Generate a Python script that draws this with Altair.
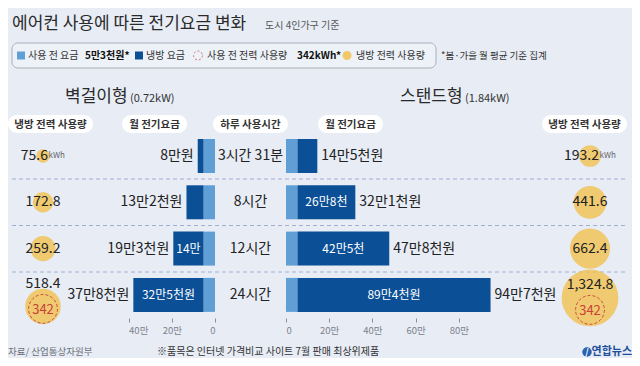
import altair as alt
import pandas as pd

# ---------------- data ----------------
rows = ["1", "2", "3", "4"]
hours = ["3시간 31분", "8시간", "12시간", "24시간"]
base_fee = 5.3  # 사용 전 요금 (만원)
wall_total = [8.0, 13.2, 19.3, 37.8]
stand_total = [14.5, 32.1, 47.8, 94.7]
wall_total_labels = ["8만원", "13만2천원", "19만3천원", "37만8천원"]
stand_total_labels = ["14만5천원", "32만1천원", "47만8천원", "94만7천원"]
wall_cool_labels = ["", "", "14만", "32만5천원"]
stand_cool_labels = ["", "26만8천", "42만5천", "89만4천원"]
wall_kwh = [75.6, 172.8, 259.2, 518.4]
stand_kwh = [193.2, 441.6, 662.4, 1324.8]
wall_kwh_labels = ["75.6", "172.8", "259.2", "518.4"]
stand_kwh_labels = ["193.2", "441.6", "662.4", "1,324.8"]
base_kwh = 342
wall_ticks = [0, 20, 40]
stand_ticks = [0, 20, 40, 60, 80]

df = pd.DataFrame({
    "row": rows,
    "hours": hours,
    "zero": [0.0] * 4,
    "base": [base_fee] * 4,
    "wall_total": wall_total,
    "stand_total": stand_total,
    "wall_total_label": wall_total_labels,
    "stand_total_label": stand_total_labels,
    "wall_cool_label": wall_cool_labels,
    "stand_cool_label": stand_cool_labels,
    "wall_kwh": wall_kwh,
    "stand_kwh": stand_kwh,
    "wall_kwh_label": wall_kwh_labels,
    "stand_kwh_label": stand_kwh_labels,
    "base_kwh": [base_kwh] * 4,
})

# ---------------- styles ----------------
FONT = "Noto Sans CJK KR"
NUM = "Liberation Sans Narrow, Noto Sans CJK KR"
BG = "#e7ecf5"
LIGHT = "#5f9fd6"
DARK = "#0b4f96"
YEL = "#f2c254"
RED = "#c8403a"
TXT = "#222222"
NSZ = 14

Y = alt.Y("row:O", scale=alt.Scale(domain=rows, range=[131, 303.9],
                                    paddingInner=0.266, paddingOuter=0), axis=None)
SIZE = alt.Scale(type="linear", domain=[0, 1000], range=[0, 2433])

LSCALE = alt.Scale(domain=[0, 40], range=[207, 120.6], nice=False, zero=True)
RSCALE = alt.Scale(domain=[0, 100], range=[278, 494], nice=False, zero=True)


def axis(vals):
    return alt.Axis(values=vals, domain=False, grid=False, tickColor="#8a8f99",
                    tickSize=4, labelColor="#7d828c", labelFontSize=9.5, labelFont=FONT,
                    labelPadding=3, title=None, orient="bottom",
                    labelExpr="datum.value == 0 ? '0' : datum.value + '만'")


LAX = axis(wall_ticks)
RAX = axis(stand_ticks)


def label(text, x, y, size=11, color=TXT, weight="normal", align="left",
          font=FONT, baseline="middle"):
    return alt.Chart(pd.DataFrame({"t": [text]})).mark_text(
        align=align, baseline=baseline, fontSize=size, color=color,
        fontWeight=weight, font=font
    ).encode(x=alt.value(x), y=alt.value(y), text="t:N")


def box(x1, x2, y1, y2, fill="white", stroke=None, radius=9):
    kw = dict(cornerRadius=radius, fill=fill)
    if stroke:
        kw.update(stroke=stroke, strokeWidth=1)
    return alt.Chart(pd.DataFrame({"t": [0]})).mark_rect(**kw).encode(
        x=alt.value(x1), x2=alt.value(x2), y=alt.value(y1), y2=alt.value(y2))


def pill(x1, x2, text):
    return [box(x1, x2, 107, 125),
            label(text, (x1 + x2) / 2, 116.5, size=10.5, weight="bold",
                  align="center", color="#333")]


layers = []

# ---------- header ----------
layers.append(label("에어컨 사용에 따른 전기요금 변화", 4, 16, size=17, color="#2a2a2a"))
layers.append(label("도시 4인가구 기준", 257, 18, size=10, color="#555"))

# legend box
layers.append(box(4, 428, 35, 60, fill="#edf1f8", stroke="#a9afba", radius=6))
sq = alt.Chart(pd.DataFrame({"t": [0]}))
layers.append(sq.mark_square(color=LIGHT, opacity=1).encode(
    x=alt.value(13), y=alt.value(47.5), size=alt.value(64)))
layers.append(label("사용 전 요금", 20, 47.5, size=10, color="#333"))
layers.append(label("5만3천원*", 77, 47.5, size=10, weight="bold", color="#111"))
layers.append(sq.mark_square(color=DARK, opacity=1).encode(
    x=alt.value(131), y=alt.value(47.5), size=alt.value(64)))
layers.append(label("냉방 요금", 138, 47.5, size=10, color="#333"))
layers.append(sq.mark_point(shape="circle", filled=False, color=RED, strokeDash=[2, 2],
                            strokeWidth=1).encode(
    x=alt.value(190), y=alt.value(47.5), size=alt.value(80)))
layers.append(label("사용 전 전력 사용량", 199, 47.5, size=10, color="#333"))
layers.append(label("342kWh*", 289, 47.5, size=10, weight="bold", color="#111"))
layers.append(sq.mark_circle(color=YEL, opacity=0.9).encode(
    x=alt.value(339), y=alt.value(47.5), size=alt.value(80)))
layers.append(label("냉방 전력 사용량", 348, 47.5, size=10, color="#333"))
layers.append(label("*봄·가을 월 평균 기준 집계", 433, 47.5, size=9.5, color="#333"))

# section titles
layers.append(label("벽걸이형", 57, 94, size=17, baseline="alphabetic", color="#2a2a2a"))
layers.append(label("(0.72kW)", 122, 94, size=11, baseline="alphabetic", color="#333"))
layers.append(label("스탠드형", 392, 94, size=17, baseline="alphabetic", color="#2a2a2a"))
layers.append(label("(1.84kW)", 457, 94, size=11, baseline="alphabetic", color="#333"))

# column pills
layers += pill(0, 85, "냉방 전력 사용량")
layers += pill(114, 179, "월 전기요금")
layers += pill(205, 280, "하루 사용시간")
layers += pill(310, 375, "월 전기요금")
layers += pill(534, 619, "냉방 전력 사용량")

# dashed separators
for yy in [171, 217.5, 264]:
    layers.append(alt.Chart(pd.DataFrame({"t": [0]})).mark_rule(
        color="#9fb0d3", strokeDash=[4, 3], strokeWidth=1).encode(
        x=alt.value(4), x2=alt.value(617), y=alt.value(yy)))

base = alt.Chart(df)

# ---------- left (벽걸이형) bars ----------
left = alt.layer(
    base.mark_bar(color=LIGHT).encode(
        x=alt.X("zero:Q", scale=LSCALE, axis=LAX, title=None), x2="base:Q", y=Y),
    base.mark_bar(color=DARK).encode(
        x=alt.X("base:Q", scale=LSCALE, axis=LAX, title=None), x2="wall_total:Q", y=Y),
    base.mark_text(align="right", dx=-4, baseline="middle", fontSize=NSZ, font=NUM,
                   color=TXT).encode(
        x=alt.X("wall_total:Q", scale=LSCALE, axis=LAX, title=None), y=Y,
        text="wall_total_label:N"),
    base.transform_filter("datum.wall_cool_label != ''").transform_calculate(
        mid="(datum.base + datum.wall_total) / 2").mark_text(
        align="center", baseline="middle", fontSize=12, font=NUM, color="white").encode(
        x=alt.X("mid:Q", scale=LSCALE, axis=LAX, title=None), y=Y,
        text="wall_cool_label:N"),
)

# ---------- right (스탠드형) bars ----------
right = alt.layer(
    base.mark_bar(color=LIGHT).encode(
        x=alt.X("zero:Q", scale=RSCALE, axis=RAX, title=None), x2="base:Q", y=Y),
    base.mark_bar(color=DARK).encode(
        x=alt.X("base:Q", scale=RSCALE, axis=RAX, title=None), x2="stand_total:Q", y=Y),
    base.mark_text(align="left", dx=4, baseline="middle", fontSize=NSZ, font=NUM,
                   color=TXT).encode(
        x=alt.X("stand_total:Q", scale=RSCALE, axis=RAX, title=None), y=Y,
        text="stand_total_label:N"),
    base.transform_filter("datum.stand_cool_label != ''").transform_calculate(
        mid="(datum.base + datum.stand_total) / 2").mark_text(
        align="center", baseline="middle", fontSize=12, font=NUM, color="white").encode(
        x=alt.X("mid:Q", scale=RSCALE, axis=RAX, title=None), y=Y,
        text="stand_cool_label:N"),
)

layers.append(left)
layers.append(right)

# hours in the middle
layers.append(base.mark_text(align="center", baseline="middle", fontSize=NSZ, font=NUM,
                             color=TXT).encode(x=alt.value(242.5), y=Y, text="hours:N"))

# ---------- circles ----------
not4 = "datum.row != '4'"
is4 = "datum.row == '4'"
layers.append(base.transform_filter(not4).mark_circle(color=YEL, opacity=0.82).encode(
    x=alt.value(35), y=Y, size=alt.Size("wall_kwh:Q", scale=SIZE, legend=None)))
layers.append(base.transform_filter(is4).mark_circle(color=YEL, opacity=0.82, yOffset=11.5).encode(
    x=alt.value(35), y=Y, size=alt.Size("wall_kwh:Q", scale=SIZE, legend=None)))
layers.append(base.transform_filter(not4).mark_circle(color=YEL, opacity=0.82).encode(
    x=alt.value(582), y=Y, size=alt.Size("stand_kwh:Q", scale=SIZE, legend=None)))
layers.append(base.transform_filter(is4).mark_circle(color=YEL, opacity=0.82, yOffset=3).encode(
    x=alt.value(582), y=Y, size=alt.Size("stand_kwh:Q", scale=SIZE, legend=None)))

# dashed 342 circles
for cx, off in [(35, 14), (582, 15)]:
    layers.append(base.transform_filter(is4).mark_point(
        shape="circle", filled=False, color=RED, strokeDash=[3, 2], strokeWidth=1,
        opacity=0.9, yOffset=off).encode(
        x=alt.value(cx), y=Y, size=alt.Size("base_kwh:Q", scale=SIZE, legend=None)))
    layers.append(base.transform_filter(is4).mark_text(
        align="center", baseline="middle", fontSize=13, font=NUM, color=RED,
        dy=off + 1).encode(x=alt.value(cx), y=Y, text="base_kwh:Q"))

# circle value labels
mid_rows = "datum.row == '2' || datum.row == '3'"
is1 = "datum.row == '1'"
layers.append(base.transform_filter(mid_rows).mark_text(
    align="center", baseline="middle", fontSize=NSZ, font=NUM, color=TXT).encode(
    x=alt.value(35), y=Y, text="wall_kwh_label:N"))
layers.append(base.transform_filter(mid_rows).mark_text(
    align="center", baseline="middle", fontSize=NSZ, font=NUM, color=TXT).encode(
    x=alt.value(582), y=Y, text="stand_kwh_label:N"))
layers.append(base.transform_filter(is1).mark_text(
    align="right", baseline="middle", fontSize=NSZ, font=NUM, color=TXT).encode(
    x=alt.value(40), y=Y, text="wall_kwh_label:N"))
layers.append(base.transform_filter(is1).mark_text(
    align="right", baseline="middle", fontSize=NSZ, font=NUM, color=TXT).encode(
    x=alt.value(591), y=Y, text="stand_kwh_label:N"))
layers.append(base.transform_filter(is1).mark_text(
    align="left", baseline="middle", fontSize=8, font=FONT, color="#666", text="kWh").encode(
    x=alt.value(40.5), y=Y))
layers.append(base.transform_filter(is1).mark_text(
    align="left", baseline="middle", fontSize=8, font=FONT, color="#666", text="kWh").encode(
    x=alt.value(591.5), y=Y))
layers.append(base.transform_filter(is4).mark_text(
    align="center", baseline="middle", fontSize=NSZ, font=NUM, color=TXT, dy=-11).encode(
    x=alt.value(35), y=Y, text="wall_kwh_label:N"))
layers.append(base.transform_filter(is4).mark_text(
    align="center", baseline="middle", fontSize=NSZ, font=NUM, color=TXT, dy=-10).encode(
    x=alt.value(582), y=Y, text="stand_kwh_label:N"))

# ---------- footer ----------
layers.append(label("자료/ 산업통상자원부", 0, 344, size=9.5, color="#6b6f78"))
layers.append(label("※품목은 인터넷 가격비교 사이트 7월 판매 최상위제품", 149, 344,
                    size=10, color="#333"))
layers.append(sq.mark_circle(color="#2a62b0", opacity=1).encode(
    x=alt.value(579), y=alt.value(344), size=alt.value(90)))
layers.append(label("/", 579, 344, size=9, color="white", weight="bold", align="center"))
layers.append(label("연합뉴스", 624, 344, size=11, color="#1f4f9a", weight="bold",
                    align="right"))

chart = alt.layer(*layers).resolve_scale(x="independent").properties(
    width=624, height=310,
    autosize=alt.AutoSizeParams(type="none"),
    padding={"left": 0, "right": 0, "top": 0, "bottom": 40},
    background=BG,
).configure_view(stroke=None)

chart.save("out.html", embed_options={"renderer": "svg", "actions": False})
